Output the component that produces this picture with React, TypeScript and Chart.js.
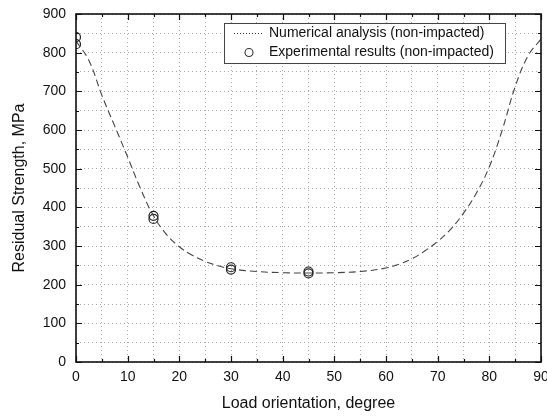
import React, { useEffect, useRef } from "react";
import { Chart, registerables } from "chart.js";

Chart.register(...registerables);

// Numerical analysis curve (non-impacted)
const curveAngles = [0, 2.5, 5, 7.5, 10, 12.5, 15, 17.5, 20, 22.5, 25, 27.5, 30, 35, 40, 45, 50, 55, 60, 62.5, 65, 67.5, 70, 72.5, 75, 77.5, 80, 82.5, 85, 87.5, 90];
const curveStrength = [830, 780, 690, 610, 530, 448, 378, 330, 298, 276, 260, 249, 241, 234, 231, 230, 231, 234, 243, 253, 267, 287, 312, 343, 385, 437, 505, 600, 712, 792, 835];

// Experimental results (non-impacted)
const expAngles = [0, 0, 15, 15, 30, 30, 45, 45];
const expStrength = [840, 822, 378, 370, 245, 239, 234, 229];

const seriesLabels = ["Numerical analysis (non-impacted)", "Experimental results (non-impacted)"];
const xTitle = "Load orientation, degree";
const yTitle = "Residual Strength, MPa";

const FONT = "'Liberation Sans', Arial, sans-serif";

const framePlugin = {
  id: "frameTicks",
  afterDatasetsDraw(chart: any) {
    const { ctx, chartArea } = chart;
    const { left, right, top, bottom } = chartArea;
    const xs = chart.scales.x;
    const ys = chart.scales.y;
    ctx.save();
    ctx.strokeStyle = "#111";
    ctx.lineWidth = 1.2;
    ctx.setLineDash([]);
    ctx.beginPath();
    for (let v = 0; v <= 90; v += 5) {
      const px = Math.round(xs.getPixelForValue(v)) + 0.5;
      const len = v % 10 === 0 ? 6 : 3;
      ctx.moveTo(px, bottom);
      ctx.lineTo(px, bottom - len);
      ctx.moveTo(px, top);
      ctx.lineTo(px, top + len);
    }
    for (let v = 0; v <= 900; v += 50) {
      const py = Math.round(ys.getPixelForValue(v)) + 0.5;
      const len = v % 100 === 0 ? 6 : 3;
      ctx.moveTo(left, py);
      ctx.lineTo(left + len, py);
      ctx.moveTo(right, py);
      ctx.lineTo(right - len, py);
    }
    ctx.stroke();
    ctx.lineWidth = 1.6;
    ctx.strokeRect(left, top, right - left, bottom - top);
    ctx.restore();
  },
};

const legendPlugin = {
  id: "boxLegend",
  afterDraw(chart: any) {
    const { ctx, chartArea } = chart;
    const bx = chartArea.left + 148;
    const by = chartArea.top + 9;
    const bw = 281;
    const bh = 40;
    ctx.save();
    ctx.fillStyle = "#fff";
    ctx.fillRect(bx, by, bw, bh);
    ctx.strokeStyle = "#444";
    ctx.lineWidth = 1;
    ctx.setLineDash([]);
    ctx.strokeRect(bx + 0.5, by + 0.5, bw, bh);
    const row1 = by + 10.5;
    const row2 = by + 29.5;
    ctx.strokeStyle = "#333";
    ctx.setLineDash([1, 2]);
    ctx.beginPath();
    ctx.moveTo(bx + 10, row1);
    ctx.lineTo(bx + 38, row1);
    ctx.stroke();
    ctx.setLineDash([]);
    ctx.beginPath();
    ctx.arc(bx + 25, row2, 4, 0, Math.PI * 2);
    ctx.lineWidth = 1.1;
    ctx.stroke();
    ctx.fillStyle = "#111";
    ctx.font = `14px ${FONT}`;
    ctx.textBaseline = "middle";
    ctx.textAlign = "left";
    ctx.fillText(seriesLabels[0], bx + 45, row1);
    ctx.fillText(seriesLabels[1], bx + 45, row2);
    ctx.restore();
  },
};

export default function App() {
  const ref = useRef<HTMLCanvasElement | null>(null);

  useEffect(() => {
    if (!ref.current) return;
    const curveData = curveAngles.map((x, i) => ({ x, y: curveStrength[i] }));
    const expData = expAngles.map((x, i) => ({ x, y: expStrength[i] }));
    const chart = new Chart(ref.current, {
      type: "scatter",
      data: {
        datasets: [
          {
            label: seriesLabels[0],
            data: curveData,
            showLine: true,
            borderColor: "#444",
            borderWidth: 1.1,
            borderDash: [7, 4],
            pointRadius: 0,
            tension: 0.4,
            fill: false,
          } as any,
          {
            label: seriesLabels[1],
            data: expData,
            showLine: false,
            pointStyle: "circle",
            pointRadius: 4.5,
            pointBorderWidth: 1.2,
            borderColor: "#222",
            backgroundColor: "rgba(255,255,255,0)",
          } as any,
        ],
      },
      options: {
        animation: false,
        responsive: false,
        devicePixelRatio: 1,
        layout: { padding: { top: 14, right: 6, bottom: 0, left: 0 } },
        plugins: {
          legend: { display: false },
          tooltip: { enabled: false },
        },
        scales: {
          x: {
            type: "linear",
            min: 0,
            max: 90,
            afterFit(scale: any) {
              scale.height = 54;
              scale.paddingLeft = 0;
              scale.paddingRight = 0;
            },
            ticks: {
              stepSize: 5,
              autoSkip: false,
              maxRotation: 0,
              padding: 7,
              color: "#111",
              font: { family: FONT, size: 14 },
              callback: (v: any) => (Number(v) % 10 === 0 ? String(v) : ""),
            },
            grid: {
              color: "#a8a8a8",
              lineWidth: 1,
              drawTicks: false,
              borderDash: [1, 3],
            } as any,
            border: { display: false, dash: [1, 3] },
            title: {
              display: true,
              text: xTitle,
              color: "#111",
              font: { family: FONT, size: 16 },
              padding: { top: 0, bottom: 3 },
            },
          },
          y: {
            type: "linear",
            min: 0,
            max: 900,
            afterFit(scale: any) {
              scale.width = 76;
              scale.paddingTop = 0;
              scale.paddingBottom = 0;
            },
            ticks: {
              stepSize: 50,
              autoSkip: false,
              padding: 10,
              color: "#111",
              font: { family: FONT, size: 14 },
              callback: (v: any) => (Number(v) % 100 === 0 ? String(v) : ""),
            },
            grid: {
              color: "#a8a8a8",
              lineWidth: 1,
              drawTicks: false,
              borderDash: [1, 3],
            } as any,
            border: { display: false, dash: [1, 3] },
            title: {
              display: true,
              text: yTitle,
              color: "#111",
              font: { family: FONT, size: 16 },
              padding: { top: 10, bottom: 0 },
            },
          },
        },
      },
      plugins: [framePlugin, legendPlugin],
    });
    return () => chart.destroy();
  }, []);

  return (
    <div style={{ position: "fixed", left: 0, top: 0, width: 547, height: 416, background: "#fff" }}>
      <canvas ref={ref} width={547} height={416} />
    </div>
  );
}
